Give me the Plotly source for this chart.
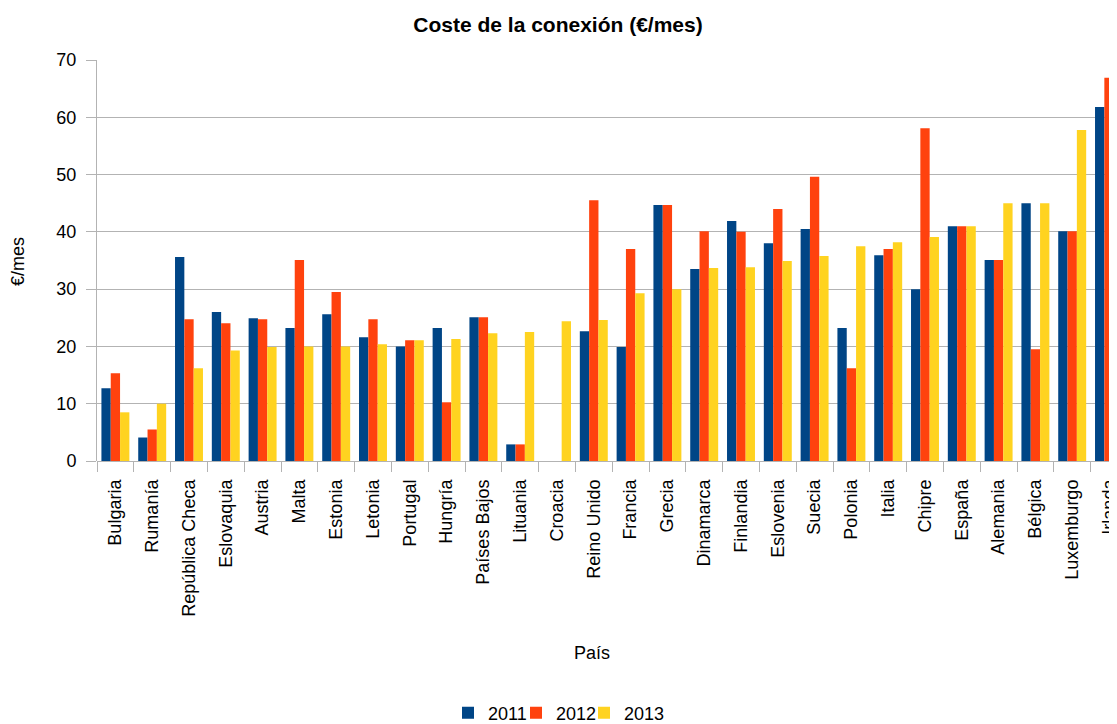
import plotly.graph_objects as go

paises = ["Bulgaria", "Rumanía", "República Checa", "Eslovaquia", "Austria", "Malta",
          "Estonia", "Letonia", "Portugal", "Hungría", "Países Bajos", "Lituania",
          "Croacia", "Reino Unido", "Francia", "Grecia", "Dinamarca", "Finlandia",
          "Eslovenia", "Suecia", "Polonia", "Italia", "Chipre", "España", "Alemania",
          "Bélgica", "Luxemburgo", "Irlanda"]

v2011 = [12.7, 4.1, 35.6, 26.0, 24.9, 23.2, 25.6, 21.6, 20.0, 23.2, 25.1, 2.9,
         0, 22.65, 19.9, 44.7, 33.5, 41.9, 38.0, 40.5, 23.2, 35.9, 30.0, 41.0,
         35.1, 45.0, 40.1, 61.8]
v2012 = [15.3, 5.5, 24.75, 24.05, 24.75, 35.1, 29.5, 24.75, 21.1, 10.25, 25.1, 2.9,
         0, 45.5, 37.0, 44.7, 40.1, 40.0, 44.0, 49.6, 16.2, 37.0, 58.1, 41.0,
         35.1, 19.5, 40.1, 66.9]
v2013 = [8.5, 10.0, 16.2, 19.3, 19.9, 20.0, 20.0, 20.4, 21.1, 21.3, 22.3, 22.5,
         24.4, 24.6, 29.3, 30.0, 33.7, 33.8, 34.9, 35.8, 37.5, 38.2, 39.1, 41.0,
         45.0, 45.0, 57.8, 57.9]

series = [("2011", v2011, "#004586"), ("2012", v2012, "#ff420e"), ("2013", v2013, "#ffd320")]

FONT = "Liberation Sans, Arial, sans-serif"
GRID = "#b3b3b3"

fig = go.Figure()
for name, vals, col in series:
    fig.add_trace(go.Bar(x=paises, y=vals, name=name, marker_color=col,
                         marker_line_width=0))
# empty, invisible legend spacer so the last legend label is not clipped
fig.add_trace(go.Scatter(x=[None], y=[None], mode="markers", name="",
                         marker=dict(size=0, color="rgba(0,0,0,0)",
                                     line=dict(width=0, color="rgba(0,0,0,0)")),
                         hoverinfo="skip", showlegend=True))

# page offset of the figure inside the browser (body margin)
OFF = 8
W, H = 1117, 724
L = 97 - OFF
T = 60 - OFF
B = H - (461 - OFF)
R = W - (1117 - OFF)
plot_w = W - L - R
plot_h = H - T - B
cat_w = 36.8
xmax = -0.5 + plot_w / cat_w


def px_x(sx):
    return (sx - OFF - L) / plot_w


def px_y(sy):
    return (H - B - (sy - OFF)) / plot_h


fig.update_layout(
    width=W, height=H,
    margin=dict(l=L, r=R, t=T, b=B, pad=0, autoexpand=False),
    paper_bgcolor="white", plot_bgcolor="white",
    font=dict(family=FONT, size=18, color="#000000"),
    barmode="group", bargap=0.24, bargroupgap=0,
    title=dict(text="<b>Coste de la conexión (€/mes)</b>", x=(558 - OFF) / W,
               xanchor="center", y=1 - (25 - OFF) / H, yanchor="middle",
               font=dict(size=21, family=FONT)),
    showlegend=True,
    legend=dict(orientation="h", x=px_x(584), xanchor="center",
                y=px_y(713), yanchor="middle",
                font=dict(size=18), itemwidth=30, tracegroupgap=0,
                entrywidth=23, entrywidthmode="pixels"),
    xaxis=dict(type="category", range=[-0.5, xmax], tickangle=-90, automargin=False,
               showgrid=False, showline=False, zeroline=False,
               ticks="outside", tickson="boundaries", ticklen=10, tickcolor=GRID,
               tickwidth=1, ticklabelstandoff=14, ticklabeloverflow="allow",
               tickfont=dict(size=18)),
    yaxis=dict(range=[0, 70], dtick=10, showgrid=True, gridcolor=GRID, gridwidth=1,
               automargin=False,
               zeroline=True, zerolinecolor=GRID, zerolinewidth=1,
               showline=True, linecolor=GRID, linewidth=1,
               ticks="outside", ticklen=10, tickcolor=GRID, ticklabelstandoff=6,
               tickfont=dict(size=18)),
    annotations=[
        dict(text="País", xref="paper", yref="paper", x=px_x(592),
             y=px_y(653), xanchor="center", yanchor="middle",
             showarrow=False, font=dict(size=18)),
        dict(text="€/mes", xref="paper", yref="paper", x=px_x(18),
             y=px_y(262), xanchor="center", yanchor="middle",
             textangle=-90, showarrow=False, font=dict(size=18)),
    ],
)

fig.write_html("out.html")
